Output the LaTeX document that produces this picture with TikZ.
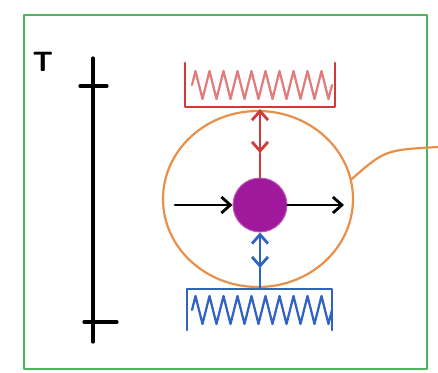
\documentclass[tikz,border=0pt]{standalone}
\usetikzlibrary{arrows.meta,shapes.geometric,decorations.pathmorphing}

\begin{document}
\begin{tikzpicture}[x=1pt, y=-1pt, >={Straight Barb[length=9pt,width=16pt]},
    line cap=round, line join=round,
    wallLine/.style={line width=2.8pt},
    hatchLine/.style={line width=2.2pt, decorate,
        decoration={zigzag, segment length=14pt, amplitude=14pt}}]
    \def\ballX{260}

    \definecolor{frameColour}{HTML}{4DB35E}
    \definecolor{hotColour}{HTML}{D23A3A}
    \definecolor{hotHatch}{HTML}{E27B7B}
    \definecolor{coldColour}{HTML}{2F63C4}
    \definecolor{haloColour}{HTML}{E8904A}
    \definecolor{ballColour}{HTML}{A0189C}

    \useasboundingbox (0,0) rectangle (438,372);

    % Draw frame
    \draw[frameColour, line width=2.8pt] (24,15) rectangle (427,369);

    % Draw time axis
    \node[font=\sffamily\bfseries\fontsize{28}{28}\selectfont, inner sep=0pt] (timeLabel) at (43,62) {T};
    \draw[line width=3.2pt] (93,58) -- (93,342);
    \draw[line width=3.2pt] (80,86) -- (107,86);
    \draw[line width=3.2pt] (84,322) -- (117,322);

    % Hot wall on top
    \draw[hotColour, wallLine] (185,63) -- (185,107) -- (335,107) -- (335,63);
    \draw[hotHatch, hatchLine] (192,85) -- (332,85);
    \coordinate (hotTouch) at (\ballX,109);
    \coordinate (hotMid) at (\ballX,153);

    % Cold wall below
    \draw[coldColour, wallLine] (187,330) -- (187,289) -- (332,289) -- (332,330);
    \draw[coldColour, hatchLine] (192,310) -- (332,310);
    \coordinate (coldTouch) at (\ballX,289);
    \coordinate (coldMid) at (\ballX,268);

    % Halo round the particle
    \node[ellipse, draw=haloColour, line width=2.2pt, minimum width=190pt,
          minimum height=176pt, inner sep=0pt] (halo) at (258,199) {};
    \coordinate (haloEnd) at (438,147);
    \draw[haloColour, line width=2.2pt] (halo.12) .. controls (385,150) .. (haloEnd);

    % Particle
    \node[circle, fill=ballColour, draw=ballColour!70!white, line width=1pt,
          minimum size=54pt, inner sep=0pt] (ball) at (\ballX,205) {};

    % Motion arrows
    \coordinate (pushStart) at (175,205);
    \coordinate (pushEnd) at (344,205);
    \draw[->, line width=2.8pt] (pushStart) -- (ball.west);
    \draw[->, line width=2.8pt] (ball.east) -- (pushEnd);

    % Exchange with walls
    \draw[<->, hotColour, line width=2.8pt] (hotTouch) -- (hotMid);
    \draw[hotColour, line width=2.8pt] (hotMid) -- (ball.north);
    \draw[<->, coldColour, line width=2.8pt] (ball.south) -- (coldMid);
    \draw[coldColour, line width=2.8pt] (coldMid) -- (coldTouch);

\end{tikzpicture}
\end{document}
